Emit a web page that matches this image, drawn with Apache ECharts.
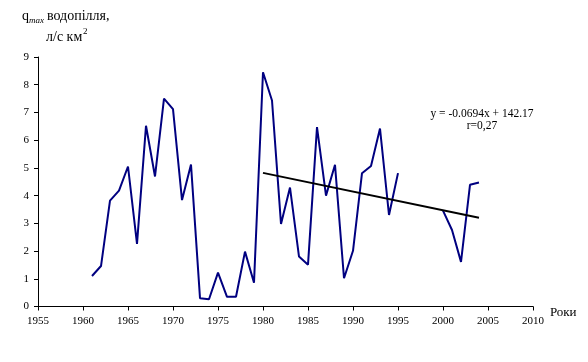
<!DOCTYPE html>
<html>
<head>
<meta charset="utf-8">
<script src="https://cdn.jsdelivr.net/npm/echarts@6/dist/echarts.min.js"></script>
<style>html,body{margin:0;padding:0;background:#fff;}#c{width:588px;height:362px;}</style>
</head>
<body>
<div id="c"></div>
<script>
const years = [1961,1962,1963,1964,1965,1966,1967,1968,1969,1970,1971,1972,1973,1974,1975,1976,1977,1978,1979,1980,1981,1982,1983,1984,1985,1986,1987,1988,1989,1990,1991,1992,1993,1994,1995,1996,1997,1998,1999,2000,2001,2002,2003,2004];
const qmax = [1.10,1.46,3.82,4.18,5.05,2.26,6.52,4.69,7.50,7.12,3.84,5.12,0.30,0.26,1.22,0.35,0.35,1.98,0.86,8.45,7.43,2.98,4.29,1.80,1.51,6.47,4.00,5.11,1.02,2.01,4.81,5.07,6.42,3.30,4.81,null,null,null,null,3.46,2.76,1.61,4.39,4.47];
const trendYears = [1980,2004];
const trendValues = [4.82,3.20];
const xTicks = {min:1955,max:2010,step:5};
const yTicks = {min:0,max:9,step:1};
const titleMain = 'водопілля,';
const titleUnits = 'л/с км';
const equationText = 'y = -0.0694x + 142.17';
const rText = 'r=0,27';
const xName = 'Роки';

const chart = echarts.init(document.getElementById('c'));
const serif = '"Liberation Serif","Times New Roman",serif';
const lineData = years.map((y,i)=>[y, qmax[i]===null ? '-' : qmax[i]]);
const trendData = trendYears.map((y,i)=>[y, trendValues[i]]);

chart.setOption({
  animation:false,
  backgroundColor:'#fff',
  grid:{left:38,right:55,top:57,bottom:55.5,containLabel:false},
  xAxis:{
    type:'value',min:xTicks.min,max:xTicks.max,interval:xTicks.step,
    name:xName,nameLocation:'end',nameGap:14,
    nameTextStyle:{fontFamily:serif,fontSize:13,color:'#000',verticalAlign:'top'},
    axisLine:{lineStyle:{color:'#000',width:1}},
    axisTick:{show:true,length:4,lineStyle:{color:'#000'}},
    axisLabel:{fontFamily:serif,fontSize:11,color:'#000',margin:9,formatter:v=>String(v)},
    splitLine:{show:false}
  },
  yAxis:{
    type:'value',min:yTicks.min,max:yTicks.max,interval:yTicks.step,
    axisLine:{show:true,lineStyle:{color:'#000',width:1}},
    axisTick:{show:true,length:4,lineStyle:{color:'#000'}},
    axisLabel:{fontFamily:serif,fontSize:11,color:'#000',margin:9},
    splitLine:{show:false}
  },
  series:[
    {type:'line',data:lineData,connectNulls:false,showSymbol:false,symbol:'none',
     lineStyle:{color:'#000080',width:2},z:2},
    {type:'line',data:trendData,showSymbol:false,symbol:'none',
     lineStyle:{color:'#000',width:2},z:3}
  ],
  graphic:[
    {type:'text',left:22,top:9,style:{text:'q',font:'14px '+serif,fill:'#000'}},
    {type:'text',left:29,top:16,style:{text:'max',font:'italic 9px '+serif,fill:'#000'}},
    {type:'text',left:47,top:9,style:{text:titleMain,font:'14px '+serif,fill:'#000'}},
    {type:'text',left:46,top:30,style:{text:titleUnits,font:'14px '+serif,fill:'#000'}},
    {type:'text',left:83,top:27,style:{text:'2',font:'9px '+serif,fill:'#000'}},
    {type:'text',x:482,y:114,style:{text:equationText,font:'11.5px '+serif,fill:'#000',align:'center',verticalAlign:'middle'}},
    {type:'text',x:482,y:126,style:{text:rText,font:'11.5px '+serif,fill:'#000',align:'center',verticalAlign:'middle'}}
  ]
});
</script>
</body>
</html>
